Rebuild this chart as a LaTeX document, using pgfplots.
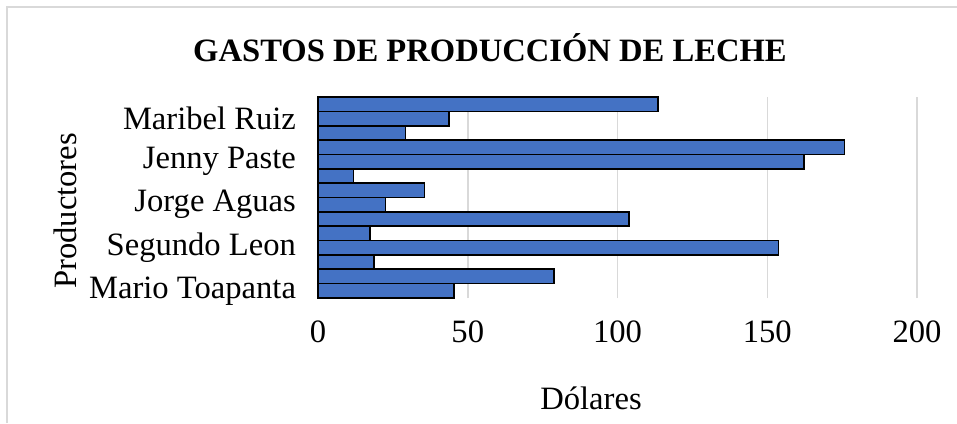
\documentclass[border=0pt]{standalone}
\usepackage{fontspec}
\setmainfont{Liberation Serif}
\usepackage{pgfplots}
\pgfplotsset{compat=1.18}
\definecolor{barblue}{HTML}{4472C4}
\definecolor{gridgray}{HTML}{D9D9D9}
\begin{document}
\begin{tikzpicture}[x=1pt,y=1pt,font=\fontsize{16.3}{19}\selectfont]
\path[use as bounding box] (0,0) rectangle (478.5,211.5);
\draw[gridgray, line width=0.75pt] (3.5,0) -- (3.5,208) -- (478.5,208);
\begin{axis}[
  at={(159pt,62.5pt)}, anchor=south west,
  scale only axis, width=299.5pt, height=100.5pt,
  xmin=0, xmax=200, ymin=-0.5, ymax=13.5,
  xbar, bar width=7.18pt,
  xtick={0,50,100,150,200},
  ytick={0,3,6,9,12},
  yticklabels={Mario Toapanta, Segundo Leon, Jorge Aguas, Jenny Paste, Maribel Ruiz},
  xmajorgrids, grid style={gridgray, line width=0.75pt},
  axis line style={draw=none},
  major tick length=0pt,
  tick label style={font=\fontsize{16.3}{19}\selectfont},
  /pgf/number format/assume math mode=true,
  xticklabel style={yshift=-8pt},
  yticklabel style={xshift=-7.5pt},
  clip=false,
]
\addplot[fill=barblue, draw=black, line width=0.8pt] coordinates {
(45.4,0) (78.8,1) (18.6,2) (153.8,3) (17.4,4) (103.8,5) (22.6,6)
(35.5,7) (11.8,8) (162.2,9) (175.8,10) (29.2,11) (43.8,12) (113.6,13)
};
\end{axis}
\node[font=\bfseries\fontsize{16.3}{19}\selectfont] at (245,187.5) {GASTOS DE PRODUCCIÓN DE LECHE};
\node at (295.5,12.5) {Dólares};
\node[rotate=90] at (32.5,106) {Productores};
\end{tikzpicture}
\end{document}
